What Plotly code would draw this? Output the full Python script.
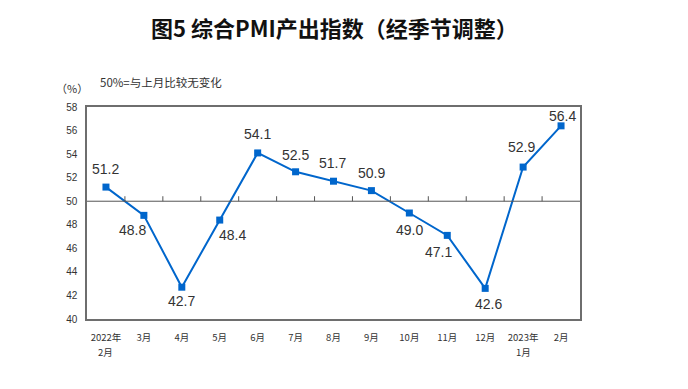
import plotly.graph_objects as go

categories = ["2022年<br>2月", "3月", "4月", "5月", "6月", "7月", "8月", "9月",
              "10月", "11月", "12月", "2023年<br>1月", "2月"]
values = [51.2, 48.8, 42.7, 48.4, 54.1, 52.5, 51.7, 50.9, 49.0, 47.1, 42.6, 52.9, 56.4]
labels = ["51.2", "48.8", "42.7", "48.4", "54.1", "52.5", "51.7", "50.9", "49.0",
          "47.1", "42.6", "52.9", "56.4"]
# label offsets (pixels) relative to each point
label_dx = [0, -11, 0, 13, 0, 0, -1, 0, 0, -9, 3, -2, 1]
label_dy = [18, -15, -14, -15, 19, 17, 18, 18, -17, -17, -16, 20, 10]

title_text = "图5 综合PMI产出指数（经季节调整）"
unit_text = "（%）"
note_text = "50%=与上月比较无变化"
ref_value = 50
y_min, y_max, y_step = 40, 58, 2

line_color = "#0066CC"
frame_color = "#6E6E6E"
text_color = "#333333"
cjk = "Noto Sans CJK SC"

fig = go.Figure()
x_idx = list(range(len(categories)))
fig.add_trace(go.Scatter(
    x=x_idx, y=values, mode="lines+markers",
    line=dict(color=line_color, width=2),
    marker=dict(symbol="square", size=7, color=line_color),
    hoverinfo="skip", showlegend=False,
))

for i, (v, t) in enumerate(zip(values, labels)):
    fig.add_annotation(x=i, y=v, text=t, showarrow=False,
                       xshift=label_dx[i], yshift=label_dy[i],
                       font=dict(family="Liberation Sans, Arial", size=14, color=text_color))

# reference line at 50 with small upward ticks between categories
fig.add_shape(type="line", xref="paper", yref="y", x0=0, x1=1, y0=ref_value, y1=ref_value,
              line=dict(color="#555555", width=1))
for i in range(len(categories) - 1):
    fig.add_shape(type="line", xref="x", yref="y", ysizemode="pixel", yanchor=ref_value,
                  x0=i + 0.5, x1=i + 0.5, y0=0, y1=5,
                  line=dict(color="#555555", width=1))

# category labels: first line as tick text, second line (if any) as annotation below
first_lines = [c.split("<br>")[0] for c in categories]
for i, c in enumerate(categories):
    parts = c.split("<br>")
    if len(parts) > 1:
        fig.add_annotation(x=i, xref="x", y=0, yref="paper", text=parts[1],
                           showarrow=False, xanchor="center", yanchor="middle",
                           yshift=-33,
                           font=dict(family=cjk, size=9.5, color=text_color))

fig.add_annotation(xref="paper", yref="paper", x=0.5, y=1, text="<b>" + title_text + "</b>",
                   showarrow=False, xanchor="center", yanchor="middle",
                   yshift=80, xshift=1,
                   font=dict(family=cjk, size=22, color="#111111"))
fig.add_annotation(xref="paper", yref="paper", x=0, y=1, text=unit_text,
                   showarrow=False, xanchor="center", yanchor="middle",
                   xshift=-15, yshift=19,
                   font=dict(family=cjk, size=11, color=text_color))
fig.add_annotation(xref="paper", yref="paper", x=0, y=1, text=note_text,
                   showarrow=False, xanchor="left", yanchor="middle",
                   xshift=11, yshift=25,
                   font=dict(family=cjk, size=11.5, color=text_color))

fig.update_xaxes(
    tickmode="array", tickvals=x_idx, ticktext=first_lines,
    range=[-0.5, len(categories) - 0.5],
    showgrid=False, zeroline=False, ticks="",
    showline=True, mirror=True, linecolor=frame_color, linewidth=1.5,
    tickfont=dict(family=cjk, size=9.5, color=text_color),
    ticklabelstandoff=9,
)
fig.update_yaxes(
    range=[y_min, y_max], dtick=y_step, tick0=y_min,
    showgrid=False, zeroline=False, ticks="",
    showline=True, mirror=True, linecolor=frame_color, linewidth=1.5,
    tickfont=dict(family="Liberation Sans, Arial", size=10, color=text_color),
    ticklabelstandoff=6,
)

fig.update_layout(
    width=688, height=389,
    margin=dict(l=87, r=108, t=107, b=70),
    paper_bgcolor="white", plot_bgcolor="white",
    showlegend=False,
)

fig.write_html("out.html", config={"displayModeBar": False},
               post_script="document.body.style.margin='0';document.body.style.overflow='hidden';")
